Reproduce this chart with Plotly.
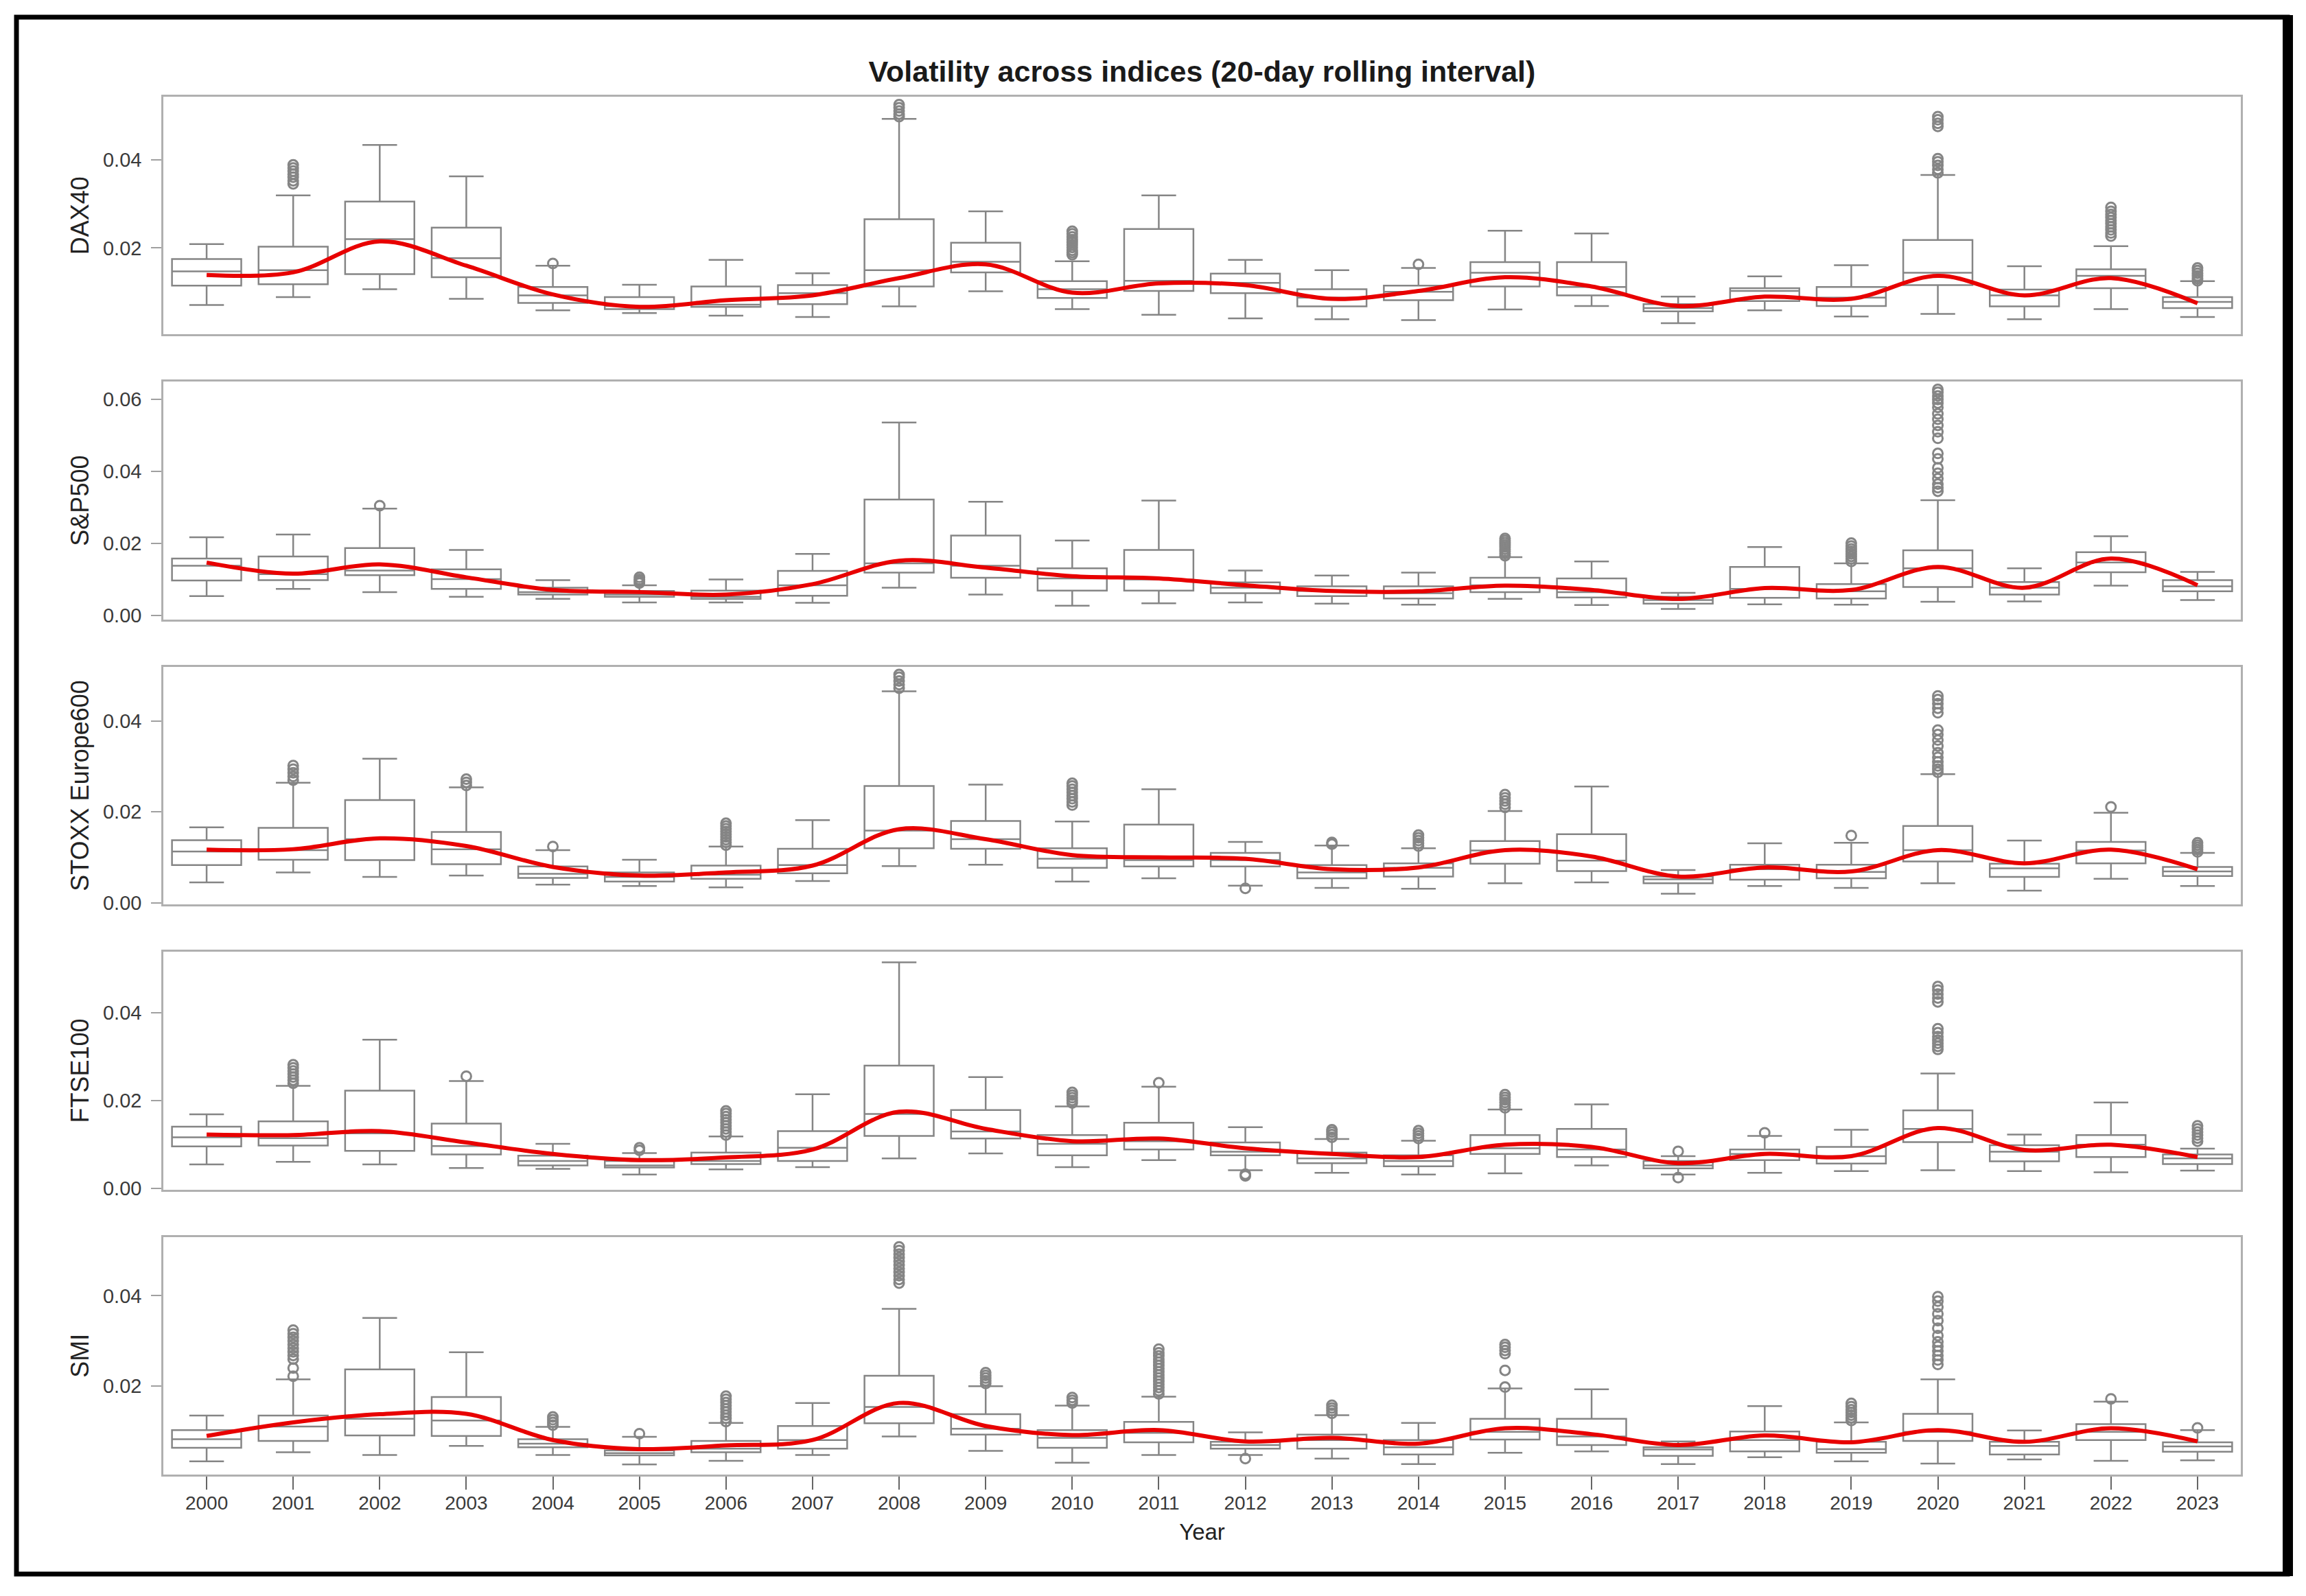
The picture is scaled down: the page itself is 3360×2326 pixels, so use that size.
import plotly.graph_objects as go
from plotly.subplots import make_subplots

years = [str(y) for y in range(2000, 2024)]
indices = ["DAX40", "S&P500", "STOXX Europe600", "FTSE100", "SMI"]

# ---------------- DAX40 ----------------
dax_lo = [0.0071, 0.0089, 0.0107, 0.0085, 0.0059, 0.0053, 0.0047, 0.0044, 0.0068, 0.0102, 0.0062, 0.0049,
          0.0041, 0.0039, 0.0037, 0.0061, 0.0069, 0.0030, 0.0059, 0.0045, 0.0051, 0.0039, 0.0062, 0.0044]
dax_q1 = [0.0115, 0.0118, 0.0141, 0.0134, 0.0076, 0.0062, 0.0067, 0.0073, 0.0113, 0.0145, 0.0087, 0.0103,
          0.0098, 0.0068, 0.0082, 0.0113, 0.0093, 0.0057, 0.0080, 0.0069, 0.0116, 0.0068, 0.0109, 0.0064]
dax_med = [0.0147, 0.0150, 0.0220, 0.0177, 0.0093, 0.0069, 0.0072, 0.0098, 0.0150, 0.0169, 0.0107, 0.0126,
           0.0121, 0.0088, 0.0101, 0.0144, 0.0112, 0.0064, 0.0103, 0.0088, 0.0144, 0.0093, 0.0137, 0.0078]
dax_q3 = [0.0175, 0.0203, 0.0305, 0.0246, 0.0112, 0.0089, 0.0113, 0.0116, 0.0265, 0.0212, 0.0125, 0.0243,
          0.0142, 0.0107, 0.0115, 0.0168, 0.0168, 0.0073, 0.0109, 0.0112, 0.0218, 0.0106, 0.0152, 0.0089]
dax_hi = [0.0209, 0.0319, 0.0433, 0.0362, 0.0160, 0.0117, 0.0173, 0.0143, 0.0492, 0.0283, 0.0170, 0.0319,
          0.0173, 0.0150, 0.0155, 0.0239, 0.0233, 0.0090, 0.0136, 0.0161, 0.0365, 0.0159, 0.0204, 0.0125]
dax_trend = [0.0139, 0.0145, 0.0215, 0.0160, 0.0095, 0.0067, 0.0082, 0.0093, 0.0132, 0.0163, 0.0099, 0.0120,
             0.0116, 0.0085, 0.0103, 0.0134, 0.0113, 0.0069, 0.0090, 0.0085, 0.0137, 0.0093, 0.0132, 0.0075]
dax_out_year = (["2001"] * 7 + ["2004"] + ["2008"] * 5 + ["2010"] * 10 + ["2014"] + ["2020"] * 9
                + ["2022"] * 10 + ["2023"] * 6)
dax_out_val = [0.0345, 0.0352, 0.0360, 0.0367, 0.0374, 0.0381, 0.0388,
               0.0165,
               0.0497, 0.0503, 0.0510, 0.0517, 0.0524,
               0.0185, 0.0190, 0.0195, 0.0201, 0.0207, 0.0213, 0.0219, 0.0225, 0.0232, 0.0238,
               0.0163,
               0.0370, 0.0378, 0.0387, 0.0395, 0.0402, 0.0475, 0.0482, 0.0490, 0.0497,
               0.0227, 0.0234, 0.0241, 0.0248, 0.0255, 0.0262, 0.0269, 0.0276, 0.0283, 0.0292,
               0.0126, 0.0131, 0.0137, 0.0143, 0.0149, 0.0155]

# ---------------- S&P500 ----------------
spx_lo = [0.0054, 0.0074, 0.0065, 0.0052, 0.0046, 0.0036, 0.0036, 0.0035, 0.0077, 0.0058, 0.0027, 0.0034,
          0.0036, 0.0033, 0.0030, 0.0046, 0.0029, 0.0018, 0.0031, 0.0030, 0.0038, 0.0039, 0.0083, 0.0043]
spx_q1 = [0.0097, 0.0098, 0.0112, 0.0074, 0.0058, 0.0052, 0.0046, 0.0055, 0.0119, 0.0105, 0.0069, 0.0069,
          0.0062, 0.0054, 0.0047, 0.0065, 0.0050, 0.0033, 0.0049, 0.0047, 0.0079, 0.0058, 0.0120, 0.0067]
spx_med = [0.0138, 0.0115, 0.0125, 0.0101, 0.0065, 0.0058, 0.0052, 0.0084, 0.0145, 0.0138, 0.0103, 0.0100,
           0.0077, 0.0068, 0.0062, 0.0084, 0.0065, 0.0043, 0.0074, 0.0067, 0.0131, 0.0077, 0.0147, 0.0081]
spx_q3 = [0.0158, 0.0164, 0.0187, 0.0128, 0.0077, 0.0068, 0.0069, 0.0124, 0.0322, 0.0222, 0.0131, 0.0182,
          0.0092, 0.0081, 0.0081, 0.0105, 0.0103, 0.0052, 0.0135, 0.0087, 0.0181, 0.0093, 0.0176, 0.0098]
spx_hi = [0.0217, 0.0225, 0.0297, 0.0182, 0.0098, 0.0084, 0.0100, 0.0171, 0.0536, 0.0316, 0.0208, 0.0319,
          0.0125, 0.0111, 0.0119, 0.0162, 0.0150, 0.0063, 0.0190, 0.0145, 0.0320, 0.0131, 0.0220, 0.0121]
spx_trend = [0.0147, 0.0116, 0.0142, 0.0106, 0.0071, 0.0065, 0.0058, 0.0087, 0.0152, 0.0133, 0.0109, 0.0103,
             0.0084, 0.0068, 0.0067, 0.0083, 0.0071, 0.0046, 0.0076, 0.0071, 0.0135, 0.0077, 0.0158, 0.0084]
spx_out_year = ["2002"] + ["2005"] * 4 + ["2015"] * 9 + ["2019"] * 8 + ["2020"] * 19
spx_out_val = [0.0305,
               0.0090, 0.0095, 0.0100, 0.0106,
               0.0166, 0.0172, 0.0178, 0.0184, 0.0190, 0.0196, 0.0202, 0.0208, 0.0214,
               0.0150, 0.0157, 0.0164, 0.0171, 0.0178, 0.0185, 0.0193, 0.0201,
               0.0345, 0.0355, 0.0365, 0.0380, 0.0395, 0.0410, 0.0435, 0.0450, 0.0492, 0.0510,
               0.0528, 0.0545, 0.0560, 0.0578, 0.0590, 0.0600, 0.0610, 0.0620, 0.0628]

# ---------------- STOXX Europe600 ----------------
sxx_lo = [0.0045, 0.0067, 0.0057, 0.0060, 0.0040, 0.0037, 0.0034, 0.0048, 0.0081, 0.0084, 0.0047, 0.0054,
          0.0038, 0.0033, 0.0031, 0.0043, 0.0045, 0.0020, 0.0037, 0.0033, 0.0043, 0.0027, 0.0053, 0.0037]
sxx_q1 = [0.0083, 0.0095, 0.0094, 0.0085, 0.0055, 0.0047, 0.0053, 0.0065, 0.0120, 0.0119, 0.0077, 0.0080,
          0.0080, 0.0054, 0.0058, 0.0086, 0.0070, 0.0043, 0.0051, 0.0054, 0.0091, 0.0057, 0.0087, 0.0059]
sxx_med = [0.0113, 0.0116, 0.0140, 0.0118, 0.0064, 0.0057, 0.0062, 0.0083, 0.0159, 0.0140, 0.0097, 0.0094,
           0.0094, 0.0067, 0.0077, 0.0115, 0.0093, 0.0052, 0.0074, 0.0068, 0.0116, 0.0076, 0.0115, 0.0069]
sxx_q3 = [0.0138, 0.0165, 0.0226, 0.0156, 0.0080, 0.0067, 0.0082, 0.0119, 0.0257, 0.0180, 0.0120, 0.0172,
          0.0110, 0.0083, 0.0087, 0.0136, 0.0151, 0.0058, 0.0084, 0.0084, 0.0169, 0.0086, 0.0134, 0.0079]
sxx_hi = [0.0166, 0.0264, 0.0317, 0.0254, 0.0116, 0.0095, 0.0124, 0.0182, 0.0465, 0.0260, 0.0179, 0.0250,
          0.0134, 0.0126, 0.0120, 0.0202, 0.0256, 0.0072, 0.0131, 0.0132, 0.0283, 0.0137, 0.0198, 0.0110]
sxx_trend = [0.0117, 0.0118, 0.0142, 0.0125, 0.0079, 0.0060, 0.0067, 0.0082, 0.0162, 0.0140, 0.0105, 0.0100,
             0.0097, 0.0074, 0.0078, 0.0116, 0.0102, 0.0058, 0.0078, 0.0069, 0.0116, 0.0087, 0.0117, 0.0074]
sxx_out_year = (["2001"] * 5 + ["2003"] * 3 + ["2004"] + ["2006"] * 9 + ["2008"] * 5 + ["2010"] * 8
                + ["2012"] + ["2013"] * 2 + ["2014"] * 5 + ["2015"] * 5 + ["2019"] + ["2020"] * 15
                + ["2022"] + ["2023"] * 5)
sxx_out_val = [0.0270, 0.0278, 0.0286, 0.0294, 0.0302,
               0.0258, 0.0265, 0.0272,
               0.0124,
               0.0127, 0.0133, 0.0139, 0.0145, 0.0151, 0.0157, 0.0163, 0.0169, 0.0175,
               0.0472, 0.0480, 0.0488, 0.0496, 0.0502,
               0.0215, 0.0222, 0.0229, 0.0236, 0.0243, 0.0250, 0.0257, 0.0263,
               0.0032,
               0.0129, 0.0133,
               0.0125, 0.0131, 0.0137, 0.0143, 0.0149,
               0.0210, 0.0217, 0.0224, 0.0231, 0.0238,
               0.0148,
               0.0287, 0.0294, 0.0301, 0.0310, 0.0320, 0.0330, 0.0345, 0.0358, 0.0370, 0.0380,
               0.0418, 0.0428, 0.0438, 0.0447, 0.0455,
               0.0211,
               0.0112, 0.0117, 0.0122, 0.0127, 0.0132]

# ---------------- FTSE100 ----------------
ftse_lo = [0.0055, 0.0061, 0.0055, 0.0047, 0.0045, 0.0032, 0.0044, 0.0049, 0.0069, 0.0080, 0.0049, 0.0065,
           0.0042, 0.0036, 0.0032, 0.0035, 0.0053, 0.0032, 0.0036, 0.0040, 0.0042, 0.0040, 0.0037, 0.0041]
ftse_q1 = [0.0096, 0.0098, 0.0086, 0.0078, 0.0053, 0.0048, 0.0056, 0.0063, 0.0120, 0.0114, 0.0076, 0.0089,
           0.0076, 0.0058, 0.0051, 0.0079, 0.0072, 0.0046, 0.0065, 0.0057, 0.0106, 0.0062, 0.0072, 0.0056]
ftse_med = [0.0117, 0.0115, 0.0126, 0.0097, 0.0063, 0.0053, 0.0063, 0.0093, 0.0170, 0.0130, 0.0102, 0.0108,
            0.0084, 0.0069, 0.0063, 0.0092, 0.0089, 0.0053, 0.0079, 0.0074, 0.0136, 0.0084, 0.0100, 0.0069]
ftse_q3 = [0.0141, 0.0153, 0.0223, 0.0148, 0.0075, 0.0063, 0.0082, 0.0131, 0.0280, 0.0179, 0.0122, 0.0150,
           0.0105, 0.0082, 0.0076, 0.0122, 0.0136, 0.0063, 0.0089, 0.0095, 0.0178, 0.0099, 0.0122, 0.0078]
ftse_hi = [0.0169, 0.0234, 0.0339, 0.0245, 0.0102, 0.0081, 0.0119, 0.0215, 0.0515, 0.0254, 0.0187, 0.0232,
           0.0140, 0.0113, 0.0109, 0.0180, 0.0192, 0.0074, 0.0120, 0.0134, 0.0262, 0.0123, 0.0196, 0.0091]
ftse_trend = [0.0123, 0.0122, 0.0131, 0.0105, 0.0079, 0.0065, 0.0071, 0.0089, 0.0175, 0.0136, 0.0108, 0.0114,
              0.0092, 0.0079, 0.0072, 0.0100, 0.0095, 0.0058, 0.0079, 0.0074, 0.0138, 0.0088, 0.0100, 0.0072]
ftse_out_year = (["2001"] * 7 + ["2003"] + ["2005"] * 2 + ["2006"] * 9 + ["2010"] * 5 + ["2011"]
                 + ["2012"] * 2 + ["2013"] * 4 + ["2014"] * 4 + ["2015"] * 6 + ["2017"] * 2 + ["2018"]
                 + ["2020"] * 12 + ["2023"] * 6)
ftse_out_val = [0.0240, 0.0247, 0.0254, 0.0261, 0.0268, 0.0275, 0.0282,
                0.0256,
                0.0087, 0.0093,
                0.0122, 0.0129, 0.0136, 0.0143, 0.0150, 0.0157, 0.0164, 0.0171, 0.0177,
                0.0195, 0.0201, 0.0207, 0.0213, 0.0219,
                0.0241,
                0.0029, 0.0033,
                0.0117, 0.0123, 0.0129, 0.0134,
                0.0114, 0.0120, 0.0126, 0.0132,
                0.0184, 0.0190, 0.0196, 0.0202, 0.0208, 0.0214,
                0.0085, 0.0025,
                0.0127,
                0.0317, 0.0324, 0.0331, 0.0338, 0.0346, 0.0355, 0.0364,
                0.0425, 0.0434, 0.0443, 0.0452, 0.0460,
                0.0108, 0.0115, 0.0122, 0.0129, 0.0136, 0.0143]

# ---------------- SMI ----------------
smi_lo = [0.0034, 0.0054, 0.0048, 0.0068, 0.0048, 0.0027, 0.0035, 0.0048, 0.0089, 0.0057, 0.0031, 0.0048,
          0.0048, 0.0040, 0.0028, 0.0053, 0.0056, 0.0028, 0.0043, 0.0034, 0.0029, 0.0038, 0.0035, 0.0036]
smi_q1 = [0.0064, 0.0079, 0.0091, 0.0090, 0.0065, 0.0047, 0.0054, 0.0062, 0.0118, 0.0093, 0.0064, 0.0076,
          0.0062, 0.0062, 0.0049, 0.0082, 0.0070, 0.0046, 0.0056, 0.0053, 0.0079, 0.0049, 0.0081, 0.0055]
smi_med = [0.0083, 0.0111, 0.0128, 0.0124, 0.0073, 0.0052, 0.0062, 0.0081, 0.0154, 0.0106, 0.0086, 0.0097,
           0.0070, 0.0081, 0.0065, 0.0099, 0.0089, 0.0060, 0.0081, 0.0061, 0.0099, 0.0068, 0.0099, 0.0067]
smi_q3 = [0.0103, 0.0135, 0.0237, 0.0176, 0.0083, 0.0058, 0.0079, 0.0112, 0.0223, 0.0138, 0.0103, 0.0121,
          0.0077, 0.0093, 0.0081, 0.0128, 0.0128, 0.0065, 0.0100, 0.0077, 0.0139, 0.0077, 0.0116, 0.0076]
smi_hi = [0.0135, 0.0215, 0.0351, 0.0275, 0.0110, 0.0088, 0.0119, 0.0163, 0.0371, 0.0200, 0.0157, 0.0177,
          0.0098, 0.0136, 0.0119, 0.0195, 0.0193, 0.0078, 0.0156, 0.0120, 0.0215, 0.0102, 0.0166, 0.0103]
smi_trend = [0.0090, 0.0120, 0.0138, 0.0139, 0.0081, 0.0061, 0.0069, 0.0081, 0.0163, 0.0112, 0.0092, 0.0103,
             0.0078, 0.0086, 0.0073, 0.0107, 0.0094, 0.0070, 0.0091, 0.0076, 0.0103, 0.0077, 0.0107, 0.0078]
smi_out_year = (["2001"] * 11 + ["2004"] * 4 + ["2005"] + ["2006"] * 9 + ["2008"] * 11 + ["2009"] * 5
                + ["2010"] * 3 + ["2011"] * 15 + ["2012"] + ["2013"] * 4 + ["2015"] * 6 + ["2019"] * 7
                + ["2020"] * 13 + ["2022"] + ["2023"])
smi_out_val = [0.0222, 0.0240, 0.0260, 0.0268, 0.0276, 0.0284, 0.0292, 0.0300, 0.0308, 0.0316, 0.0324,
               0.0114, 0.0120, 0.0126, 0.0132,
               0.0095,
               0.0122, 0.0129, 0.0136, 0.0143, 0.0150, 0.0157, 0.0164, 0.0171, 0.0178,
               0.0428, 0.0436, 0.0444, 0.0452, 0.0460, 0.0468, 0.0476, 0.0484, 0.0492, 0.0500, 0.0508,
               0.0206, 0.0212, 0.0218, 0.0224, 0.0230,
               0.0163, 0.0169, 0.0175,
               0.0183, 0.0190, 0.0197, 0.0204, 0.0211, 0.0218, 0.0225, 0.0232, 0.0239, 0.0246, 0.0253,
               0.0260, 0.0267, 0.0274, 0.0282,
               0.0040,
               0.0140, 0.0146, 0.0152, 0.0158,
               0.0198, 0.0235, 0.0272, 0.0279, 0.0286, 0.0292,
               0.0124, 0.0130, 0.0136, 0.0142, 0.0148, 0.0155, 0.0162,
               0.0248, 0.0258, 0.0268, 0.0278, 0.0288, 0.0298, 0.0312, 0.0328, 0.0345, 0.0360, 0.0375,
               0.0388, 0.0398,
               0.0172,
               0.0108]

y_ranges = [[0.00047, 0.0542], [-0.0011, 0.0649], [-0.00035, 0.0519], [-0.0002, 0.0539], [0.00047, 0.0530]]
y_ticks = [[0.02, 0.04], [0.0, 0.02, 0.04, 0.06], [0.0, 0.02, 0.04], [0.0, 0.02, 0.04], [0.02, 0.04]]

series = [
    (dax_lo, dax_q1, dax_med, dax_q3, dax_hi, dax_trend, dax_out_year, dax_out_val),
    (spx_lo, spx_q1, spx_med, spx_q3, spx_hi, spx_trend, spx_out_year, spx_out_val),
    (sxx_lo, sxx_q1, sxx_med, sxx_q3, sxx_hi, sxx_trend, sxx_out_year, sxx_out_val),
    (ftse_lo, ftse_q1, ftse_med, ftse_q3, ftse_hi, ftse_trend, ftse_out_year, ftse_out_val),
    (smi_lo, smi_q1, smi_med, smi_q3, smi_hi, smi_trend, smi_out_year, smi_out_val),
]

BOX_GRAY = "#858585"
FONT = "Liberation Sans, Arial, sans-serif"

fig = make_subplots(rows=5, cols=1, shared_xaxes=True, vertical_spacing=0.0344)

for i, (lo, q1, med, q3, hi, trend, oy, ov) in enumerate(series, start=1):
    fig.add_trace(go.Box(
        x=years, q1=q1, median=med, q3=q3, lowerfence=lo, upperfence=hi,
        boxpoints=False, fillcolor="white", line=dict(color=BOX_GRAY, width=2.5),
        whiskerwidth=0.5, width=0.8, showlegend=False, hoverinfo="skip"),
        row=i, col=1)
    fig.add_trace(go.Scatter(
        x=oy, y=ov, mode="markers",
        marker=dict(symbol="circle-open", size=14, color=BOX_GRAY, line=dict(width=3, color=BOX_GRAY)),
        showlegend=False, hoverinfo="skip"),
        row=i, col=1)
    fig.add_trace(go.Scatter(
        x=years, y=trend, mode="lines", line=dict(color="rgb(232,0,0)", width=6, shape="spline"),
        showlegend=False, hoverinfo="skip"),
        row=i, col=1)
    fig.update_yaxes(
        row=i, col=1, range=y_ranges[i - 1], tickvals=y_ticks[i - 1], tickformat=".2f",
        showgrid=False, zeroline=False, showline=True, mirror=True, linecolor="#b0b0b0", linewidth=2.5,
        ticks="outside", ticklen=15, tickwidth=2, tickcolor="#a0a0a0", ticklabelstandoff=8,
        tickfont=dict(size=29, color="#3a3a3a", family=FONT),
        title=dict(text=indices[i - 1], font=dict(size=36, color="#222222", family=FONT), standoff=10))
    fig.update_xaxes(
        row=i, col=1, type="category", range=[-0.5, 23.5], showgrid=False, zeroline=False,
        showline=True, mirror=True, linecolor="#b0b0b0", linewidth=2.5,
        ticks="outside" if i == 5 else "", ticklen=19, tickwidth=1.5, tickcolor="#666666",
        showticklabels=(i == 5), ticklabelstandoff=-4,
        tickfont=dict(size=28, color="#3a3a3a", family=FONT))

fig.update_xaxes(row=5, col=1, title=dict(text="Year", font=dict(size=33, color="#222222", family=FONT),
                                         standoff=16))

W, H = 3360, 2326
ML, MR, MT, MB = 238, 95, 141, 177
PW, PH = W - ML - MR, H - MT - MB


def px(xpix):
    return (xpix - ML) / PW


def py(ypix):
    return (H - MB - ypix) / PH


fig.update_layout(
    width=W, height=H,
    margin=dict(l=ML, r=MR, t=MT, b=MB),
    paper_bgcolor="white", plot_bgcolor="white",
    font=dict(family=FONT, color="#222222"),
    title=dict(text="<b>Volatility across indices (20-day rolling interval)</b>",
               x=0.5, xref="paper", xanchor="center", y=1 - 104 / H, yref="container", yanchor="middle",
               font=dict(size=43, color="#1a1a1a", family=FONT)),
    shapes=[
        dict(type="rect", xref="paper", yref="paper", x0=px(24), x1=px(3333), y0=py(2294), y1=py(25),
             line=dict(color="black", width=7), fillcolor="rgba(0,0,0,0)", layer="above"),
        dict(type="rect", xref="paper", yref="paper", x0=px(3326), x1=px(3341), y0=py(2297), y1=py(22),
             line=dict(width=0), fillcolor="black", layer="above"),
    ],
)

fig.write_html("out.html", config={"displayModeBar": False},
               post_script="document.body.style.margin='0';document.body.style.overflow='hidden';")
